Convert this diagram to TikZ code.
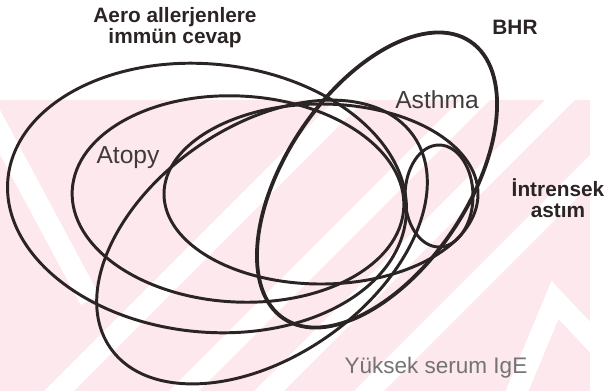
\documentclass[tikz,border=0pt]{standalone}
\usepackage{fontspec}
\setsansfont{Liberation Sans}
\usetikzlibrary{positioning}
\definecolor{ink}{HTML}{2B2424}
\definecolor{wm}{HTML}{FCE8ED}

\begin{document}
\begin{tikzpicture}[x=0.025cm, y=-0.025cm,
    ring/.style={draw=ink, line width=2.1pt},
    bhrring/.style={ring, line width=2.7pt},
    band/.style={draw=white, line width=15pt},
    title/.style={font=\sffamily\bfseries\fontsize{14.8}{15}\selectfont, text=ink, align=center, inner sep=0pt},
    label/.style={font=\sffamily\fontsize{17.5}{18}\selectfont, text=ink!90, inner sep=0pt}
  ]
    \useasboundingbox (0,0) rectangle (610,391);

    % Watermark
    \begin{scope}
      \clip (0,100) rectangle (590,391);
      \fill[wm] (0,100) rectangle (590,391);
      \draw[band] (-20,95) -- (90,300);
      \draw[band] (450,0) -- (0,450);
      \draw[band] (575,0) -- (0,575);
      \draw[band] (660,0) -- (0,660);
      \draw[band] (760,0) -- (300,460);
      \draw[band] (505,420) -- (555,300) -- (640,390);
    \end{scope}

    % Centres
    \coordinate (aero) at (207,198);
    \coordinate (atopy) at (238,199);
    \coordinate (asthma) at (321,194);
    \coordinate (bhr) at (377,180);
    \coordinate (intr) at (439,196);
    \coordinate (ige) at (262,242);

    % Ellipses
    \draw[ring, rotate around={-5.6:(aero)}] (aero) ellipse (200 and 134);
    \draw[ring, rotate around={-3:(atopy)}] (atopy) ellipse (166 and 103);
    \draw[ring] (asthma) ellipse (157 and 90);
    \draw[bhrring, rotate around={56:(bhr)}] (bhr) ellipse (167 and 91);
    \draw[ring] (intr) ellipse (34 and 51);
    \draw[ring, rotate around={35:(ige)}] (ige) ellipse (185 and 115);

    % Labels
    \node[title] (aerolbl) at (175,28) {Aero allerjenlere\\immün cevap};
    \node[title] (bhrlbl) at (515,27) {BHR};
    \node[title] (intrlbl) at (558,198) {İntrensek\\astım};
    \node[label] (asthmalbl) at (437,100) {Asthma};
    \node[label] (atopylbl) at (128,158) {Atopy};
    \node[label, text=black!55, font=\sffamily\fontsize{16}{18}\selectfont] (igelbl) at (436,368) {Yüksek serum IgE};
\end{tikzpicture}
\end{document}
